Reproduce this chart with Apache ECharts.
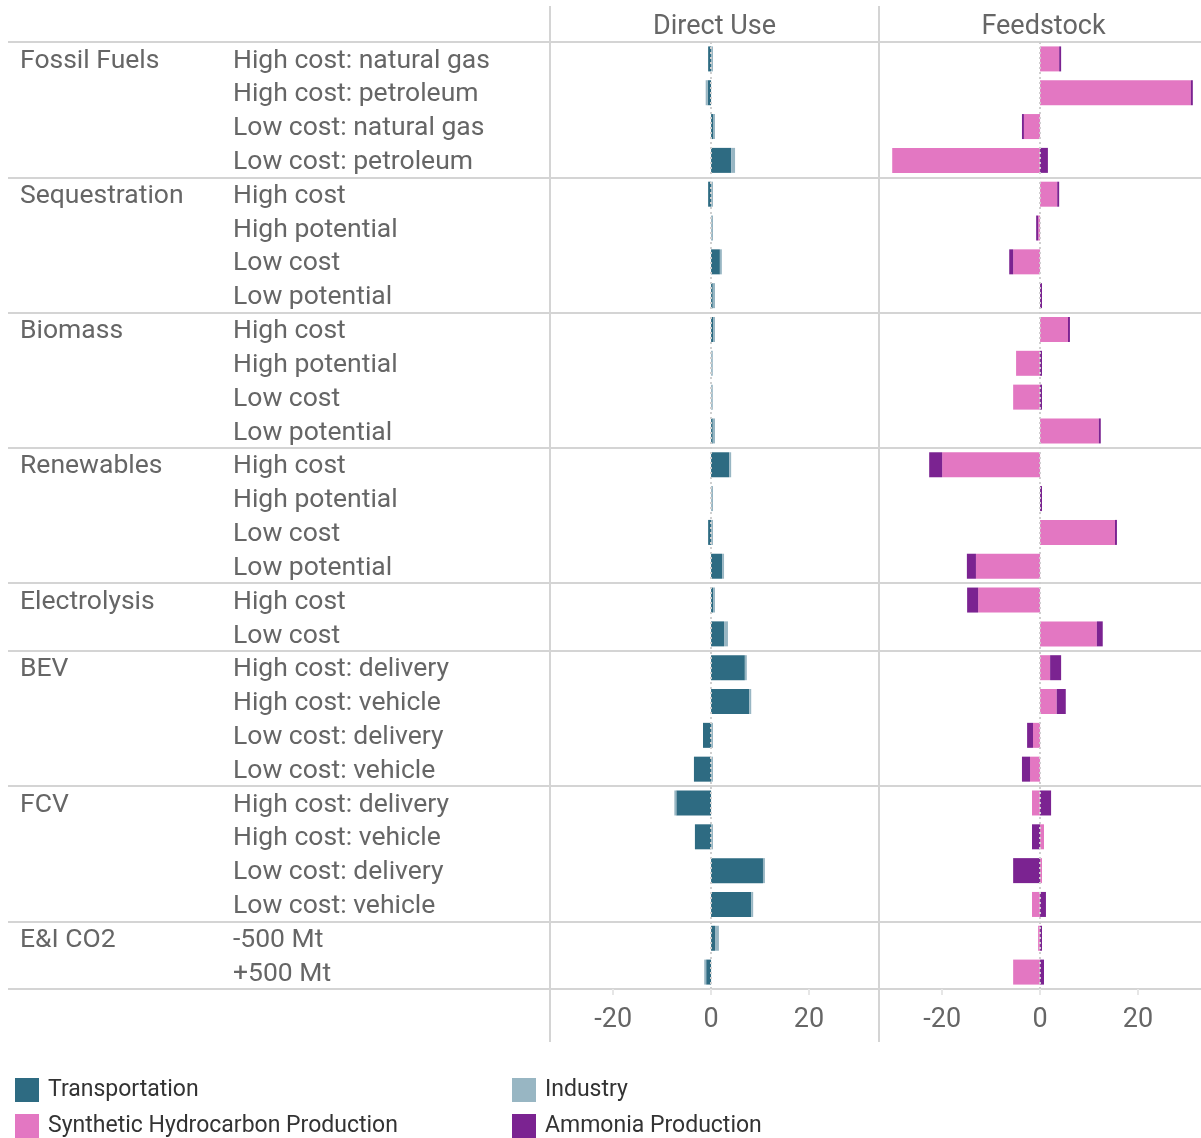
<!DOCTYPE html>
<html>
<head>
<meta charset="utf-8">
<script src="https://cdn.jsdelivr.net/npm/echarts@6/dist/echarts.min.js"></script>
<style>
  html, body { margin: 0; padding: 0; background: #fff; }
  #chart { width: 1201px; height: 1138px; }
</style>
</head>
<body>
<div id="chart"></div>
<script>
// ---------- data ----------
const groups = ['Fossil Fuels', 'Sequestration', 'Biomass', 'Renewables', 'Electrolysis', 'BEV', 'FCV', 'E&I CO2'];
const groupSizes = [4, 4, 4, 4, 2, 4, 4, 2];
const rowLabels = [
  'High cost: natural gas', 'High cost: petroleum', 'Low cost: natural gas', 'Low cost: petroleum',
  'High cost', 'High potential', 'Low cost', 'Low potential',
  'High cost', 'High potential', 'Low cost', 'Low potential',
  'High cost', 'High potential', 'Low cost', 'Low potential',
  'High cost', 'Low cost',
  'High cost: delivery', 'High cost: vehicle', 'Low cost: delivery', 'Low cost: vehicle',
  'High cost: delivery', 'High cost: vehicle', 'Low cost: delivery', 'Low cost: vehicle',
  '-500 Mt', '+500 Mt'
];
const panels = ['Direct Use', 'Feedstock'];
const seriesNames = ['Transportation', 'Industry', 'Synthetic Hydrocarbon Production', 'Ammonia Production'];
// Direct Use
const transportation = [-0.6, -0.7, 0.5, 4.1, -0.6, 0, 1.8, 0.35, 0.4, 0, 0, 0.35, 3.7, 0, -0.6, 2.25, 0.4, 2.65, 6.9, 7.8, -1.65, -3.5, -7.1, -3.3, 10.6, 8.2, 0.8, -1.0];
const industry = [0.4, -0.4, 0.3, 0.8, 0.4, 0.4, 0.4, 0.45, 0.4, 0.35, 0.35, 0.45, 0.4, 0.4, 0.4, 0.4, 0.4, 0.8, 0.4, 0.4, 0.4, 0.4, -0.4, 0.4, 0.4, 0.4, 0.8, -0.4];
// Feedstock
const synthetic = [3.9, 30.8, -3.3, -30.2, 3.5, -0.4, -5.5, 0, 5.7, -4.9, -5.5, 12.0, -20.0, 0, 15.3, -13.1, -12.65, 11.6, 2.05, 3.4, -1.45, -2.05, -1.65, 0.8, 0.4, -1.65, -0.4, -5.5];
const ammonia = [0.4, 0.4, -0.4, 1.6, 0.4, -0.4, -0.8, 0.4, 0.4, 0.4, 0.4, 0.4, -2.65, 0.4, 0.4, -1.85, -2.25, 1.2, 2.25, 1.85, -1.2, -1.65, 2.25, -1.65, -5.5, 1.2, 0.4, 0.8];
const tickValues = [-20, 0, 20];
const xMin = -32.9, xMax = 34.3;

// ---------- derived ----------
const rowKeys = rowLabels.map((_, i) => String(i));
const groupAtRow = rowLabels.map(() => '');
const boundaries = new Set([0]);
let acc = 0;
groups.forEach((g, gi) => { groupAtRow[acc] = g; acc += groupSizes[gi]; boundaries.add(acc); });

const colors = ['#2e6b82', '#98b6c3', '#e377c2', '#7b2391'];
const FONT = 'Roboto';
const GRAY = '#666';
const LINE = '#d4d4d4';
const LABEL_SIZE = 26.5;
const TOP = 42, ROWS_H = 947, L1 = 550, L2 = 879, PW = 329;

const chart = echarts.init(document.getElementById('chart'), null, { renderer: 'canvas' });

function xAxisFor(gi) {
  return {
    type: 'value', gridIndex: gi, min: xMin, max: xMax,
    axisLine: { show: false },
    splitLine: { show: false },
    axisTick: { show: true, customValues: tickValues, length: 6, lineStyle: { color: '#e6e6e6', width: 2 } },
    axisLabel: { show: true, customValues: tickValues, fontSize: 27, color: GRAY, fontFamily: FONT, margin: 18 }
  };
}
function catAxis(gi, extra) {
  return Object.assign({
    type: 'category', gridIndex: gi, data: rowKeys, inverse: true, position: 'left',
    axisLine: { show: false }, axisTick: { show: false },
    axisLabel: { show: false }, splitLine: { show: false }
  }, extra || {});
}
const zeroLine = {
  silent: true, symbol: 'none', label: { show: false },
  lineStyle: { type: [2, 3], color: '#cfcfcf', width: 2 },
  data: [{ xAxis: 0 }]
};
function barSeries(name, data, gi, yi, stack, ci, withZero) {
  const s = {
    name, type: 'bar', data, xAxisIndex: gi, yAxisIndex: yi, stack,
    barWidth: 25, itemStyle: { color: colors[ci] }, emphasis: { disabled: true }
  };
  if (withZero) s.markLine = zeroLine;
  return s;
}
const labelRich = { t: { fontSize: LABEL_SIZE, color: GRAY, fontFamily: FONT, padding: [4, 0, 0, 0] } };
function rowAxisLabel(margin, texts) {
  return {
    show: true, interval: 0, margin, align: 'left',
    fontSize: LABEL_SIZE, color: GRAY, fontFamily: FONT, rich: labelRich,
    formatter: (v, i) => texts[i] ? '{t|' + texts[i] + '}' : ''
  };
}

const option = {
  animation: false,
  backgroundColor: '#fff',
  title: panels.map((p, i) => ({
    text: p, left: (i === 0 ? L1 : L2) + PW / 2 - 5, top: 9, textAlign: 'center',
    textStyle: { fontSize: 27, fontWeight: 'normal', color: GRAY, fontFamily: FONT }
  })),
  legend: [
    { data: [seriesNames[0], seriesNames[2]], orient: 'vertical', left: 15, top: 1078 },
    { data: [seriesNames[1], seriesNames[3]], orient: 'vertical', left: 512, top: 1078 }
  ].map(l => Object.assign(l, {
    icon: 'rect', itemWidth: 24, itemHeight: 24, itemGap: 12, selectedMode: false, padding: 0,
    textStyle: { fontSize: 23, color: '#333', fontFamily: FONT, padding: [3, 0, 0, 4] }
  })),
  grid: [
    { left: L1, top: TOP, width: PW, height: ROWS_H, containLabel: false, outerBoundsMode: 'none' },
    { left: L2, top: TOP, width: PW, height: ROWS_H, containLabel: false, outerBoundsMode: 'none' },
    { left: 8, top: TOP, right: 0, height: ROWS_H, containLabel: false, outerBoundsMode: 'none' }
  ],
  xAxis: [xAxisFor(0), xAxisFor(1), { type: 'value', gridIndex: 2, show: false }],
  yAxis: [
    catAxis(0, { axisLabel: rowAxisLabel(L1 - 233, rowLabels) }),
    catAxis(0, { axisLabel: rowAxisLabel(L1 - 20, groupAtRow) }),
    catAxis(1),
    catAxis(2, { splitLine: { show: true, interval: (i) => boundaries.has(i), lineStyle: { color: LINE, width: 2 } } })
  ],
  graphic: [L1, L2].map(x => ({
    type: 'line', silent: true, z: 100,
    shape: { x1: x, y1: 6, x2: x, y2: 1042 },
    style: { stroke: LINE, lineWidth: 2 }
  })),
  series: [
    barSeries(seriesNames[0], transportation, 0, 0, 'direct', 0, true),
    barSeries(seriesNames[1], industry, 0, 0, 'direct', 1, false),
    barSeries(seriesNames[2], synthetic, 1, 2, 'feed', 2, true),
    barSeries(seriesNames[3], ammonia, 1, 2, 'feed', 3, false)
  ]
};
chart.setOption(option);
</script>
</body>
</html>
